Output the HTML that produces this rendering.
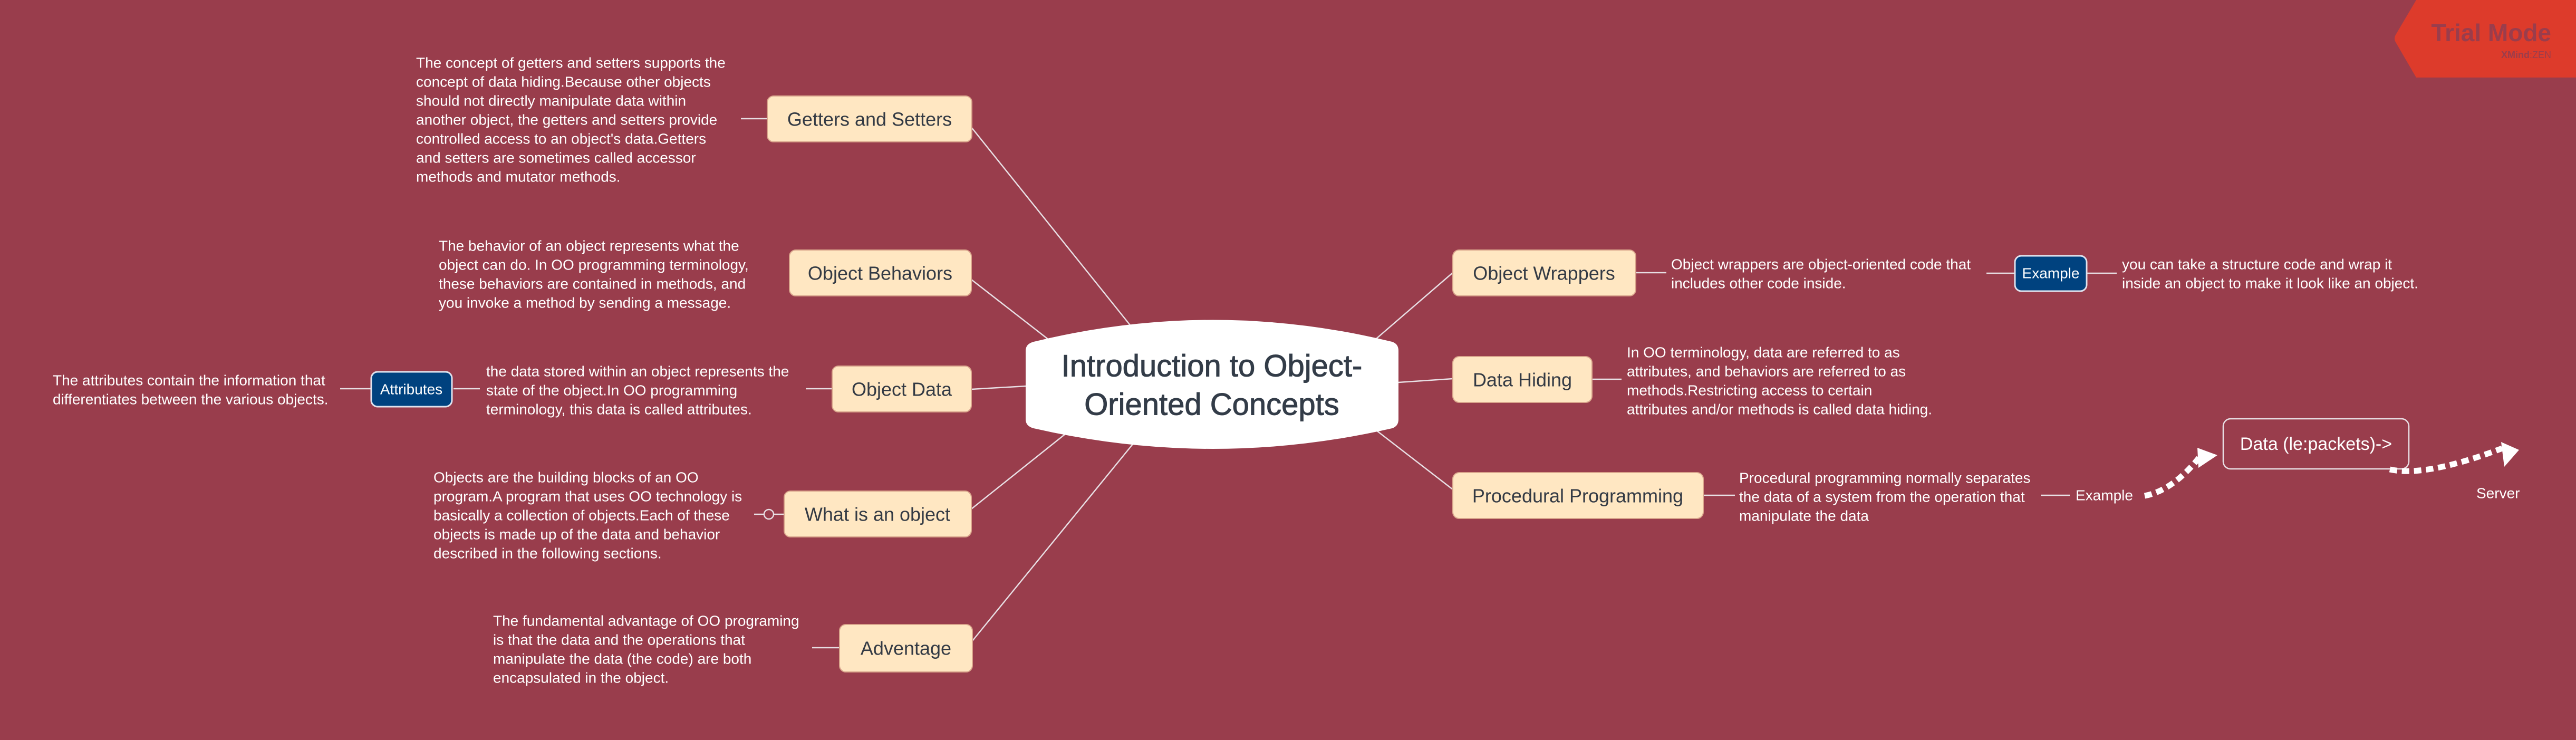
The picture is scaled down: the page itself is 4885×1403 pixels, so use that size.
<!DOCTYPE html>
<html><head><meta charset="utf-8"><style>
html,body{margin:0;padding:0;background:#993d4c;}
svg{display:block}
.n{fill:#ffe7c2;stroke:#d9a58c;stroke-width:2}
.nt{font-family:"Liberation Sans",sans-serif;font-size:36px;fill:#333a44;text-anchor:middle;dominant-baseline:central}
.t{font-family:"Liberation Sans",sans-serif;font-size:28px;fill:#ffffff;dominant-baseline:central}
.c{stroke:#e8dfe4;stroke-width:2.5;fill:none}
</style></head><body>
<svg width="4885" height="1403" viewBox="0 0 4885 1403" xmlns="http://www.w3.org/2000/svg">
<rect width="4885" height="1403" fill="#993d4c"/>
<g class="c">
<line x1="1841" y1="240" x2="2146" y2="620"/>
<line x1="1842" y1="530" x2="1990" y2="645"/>
<line x1="1842" y1="738" x2="1946" y2="732"/>
<line x1="1842" y1="965" x2="2025" y2="819"/>
<line x1="1844" y1="1215" x2="2149" y2="841"/>
<line x1="2610" y1="642" x2="2755" y2="517"/>
<line x1="2652" y1="725" x2="2755" y2="718"/>
<line x1="2610" y1="816" x2="2755" y2="928"/>
<line x1="1405" y1="225" x2="1455" y2="225"/>
<line x1="1790" y1="517" x2="1497" y2="517"/>
<line x1="1528" y1="737" x2="1578" y2="737"/>
<line x1="860" y1="737" x2="910" y2="737"/>
<line x1="645" y1="737" x2="704" y2="737"/>
<line x1="1430" y1="975" x2="1487" y2="975"/>
<line x1="1540" y1="1228" x2="1592" y2="1228"/>
<line x1="3102" y1="517" x2="3160" y2="517"/>
<line x1="3767" y1="518" x2="3821" y2="518"/>
<line x1="3957" y1="518" x2="4014" y2="518"/>
<line x1="3019" y1="719" x2="3075" y2="719"/>
<line x1="3230" y1="939" x2="3290" y2="939"/>
<line x1="3870" y1="939" x2="3925" y2="939"/>
</g>
<circle cx="1458" cy="975" r="9" fill="#993d4c" stroke="#e8dfe4" stroke-width="2.5"/>
<path d="M1960,648 Q2300,565 2640,648 Q2652,652 2652,665 L2652,795 Q2652,808 2640,812 Q2300,890 1960,812 Q1945,808 1945,795 L1945,665 Q1945,652 1960,648 Z" fill="#ffffff"/>
<text x="2298" y="694" font-family="'Liberation Sans',sans-serif" font-size="58" fill="#333c48" stroke="#333c48" stroke-width="1" text-anchor="middle" dominant-baseline="central">Introduction to Object-</text>
<text x="2298" y="767" font-family="'Liberation Sans',sans-serif" font-size="58" fill="#333c48" stroke="#333c48" stroke-width="1" text-anchor="middle" dominant-baseline="central">Oriented Concepts</text>
<rect class="n" x="1455" y="182" width="388" height="87" rx="12"/><text class="nt" x="1649" y="226">Getters and Setters</text>
<rect class="n" x="1497" y="474" width="345" height="87" rx="12"/><text class="nt" x="1669" y="518">Object Behaviors</text>
<rect class="n" x="1578" y="694" width="264" height="87" rx="12"/><text class="nt" x="1710" y="738">Object Data</text>
<rect class="n" x="1487" y="931" width="355" height="87" rx="12"/><text class="nt" x="1664" y="975">What is an object</text>
<rect class="n" x="1592" y="1184" width="252" height="90" rx="12"/><text class="nt" x="1718" y="1229">Adventage</text>
<rect x="704" y="705" width="153" height="66" rx="12" fill="#00427f" stroke="#dfe3ee" stroke-width="3"/>
<text class="t" x="780" y="738" text-anchor="middle" font-size="28">Attributes</text>
<rect class="n" x="2755" y="474" width="347" height="87" rx="12"/><text class="nt" x="2928" y="518">Object Wrappers</text>
<rect class="n" x="2755" y="676" width="264" height="87" rx="12"/><text class="nt" x="2887" y="720">Data Hiding</text>
<rect class="n" x="2755" y="896" width="475" height="87" rx="12"/><text class="nt" x="2992" y="940">Procedural Programming</text>
<rect x="3821" y="485" width="136" height="67" rx="12" fill="#00427f" stroke="#dfe3ee" stroke-width="3"/>
<text class="t" x="3889" y="518" text-anchor="middle" font-size="28">Example</text>
<rect x="4216" y="794" width="352" height="95" rx="14" fill="none" stroke="#e8dfe4" stroke-width="2.5"/>
<text x="4392" y="842" font-family="'Liberation Sans',sans-serif" font-size="34" fill="#fff" text-anchor="middle" dominant-baseline="central">Data (le:packets)-&gt;</text>
<path d="M4067,940 Q4120,930 4170,868" stroke="#fff" stroke-width="11" fill="none" stroke-dasharray="14,9"/>
<polygon points="4167,849 4205,863 4169,887" fill="#fff"/>
<path d="M4532,890 Q4600,905 4745,850" stroke="#fff" stroke-width="11" fill="none" stroke-dasharray="14,9"/>
<polygon points="4743,838 4777,853 4749,885" fill="#fff"/>
<text class="t" x="3936" y="939">Example</text>
<text class="t" x="4696" y="935">Server</text>
<g class="t">
<text x="789" y="119">The concept of getters and setters supports the</text>
<text x="789" y="155">concept of data hiding.Because other objects</text>
<text x="789" y="191">should not directly manipulate data within</text>
<text x="789" y="227">another object, the getters and setters provide</text>
<text x="789" y="263">controlled access to an object's data.Getters</text>
<text x="789" y="299">and setters are sometimes called accessor</text>
<text x="789" y="335">methods and mutator methods.</text>
<text x="832" y="466">The behavior of an object represents what the</text>
<text x="832" y="502">object can do. In OO programming terminology,</text>
<text x="832" y="538">these behaviors are contained in methods, and</text>
<text x="832" y="574">you invoke a method by sending a message.</text>
<text x="922" y="704">the data stored within an object represents the</text>
<text x="922" y="740">state of the object.In OO programming</text>
<text x="922" y="776">terminology, this data is called attributes.</text>
<text x="100" y="721">The attributes contain the information that</text>
<text x="100" y="757">differentiates between the various objects.</text>
<text x="822" y="905">Objects are the building blocks of an OO</text>
<text x="822" y="941">program.A program that uses OO technology is</text>
<text x="822" y="977">basically a collection of objects.Each of these</text>
<text x="822" y="1013">objects is made up of the data and behavior</text>
<text x="822" y="1049">described in the following sections.</text>
<text x="935" y="1177">The fundamental advantage of OO programing</text>
<text x="935" y="1213">is that the data and the operations that</text>
<text x="935" y="1249">manipulate the data (the code) are both</text>
<text x="935" y="1285">encapsulated in the object.</text>
<text x="3169" y="501">Object wrappers are object-oriented code that</text>
<text x="3169" y="537">includes other code inside.</text>
<text x="4024" y="501">you can take a structure code and wrap it</text>
<text x="4024" y="537">inside an object to make it look like an object.</text>
<text x="3085" y="668">In OO terminology, data are referred to as</text>
<text x="3085" y="704">attributes, and behaviors are referred to as</text>
<text x="3085" y="740">methods.Restricting access to certain</text>
<text x="3085" y="776">attributes and/or methods is called data hiding.</text>
<text x="3298" y="906">Procedural programming normally separates</text>
<text x="3298" y="942">the data of a system from the operation that</text>
<text x="3298" y="978">manipulate the data</text>
</g>
<path d="M4582,0 L4885,0 L4885,147 L4582,147 L4543,80 Q4539,73 4543,66 Z" fill="#dd3b2b"/>
<text x="4838" y="62" font-family="'Liberation Sans',sans-serif" font-size="46" font-weight="bold" fill="#9a3d4c" text-anchor="end" dominant-baseline="central">Trial Mode</text>
<text x="4838" y="104" font-family="'Liberation Sans',sans-serif" font-size="18" fill="#9a3d4c" text-anchor="end" dominant-baseline="central"><tspan font-weight="bold">XMind</tspan>:ZEN</text>
</svg>
</body></html>
